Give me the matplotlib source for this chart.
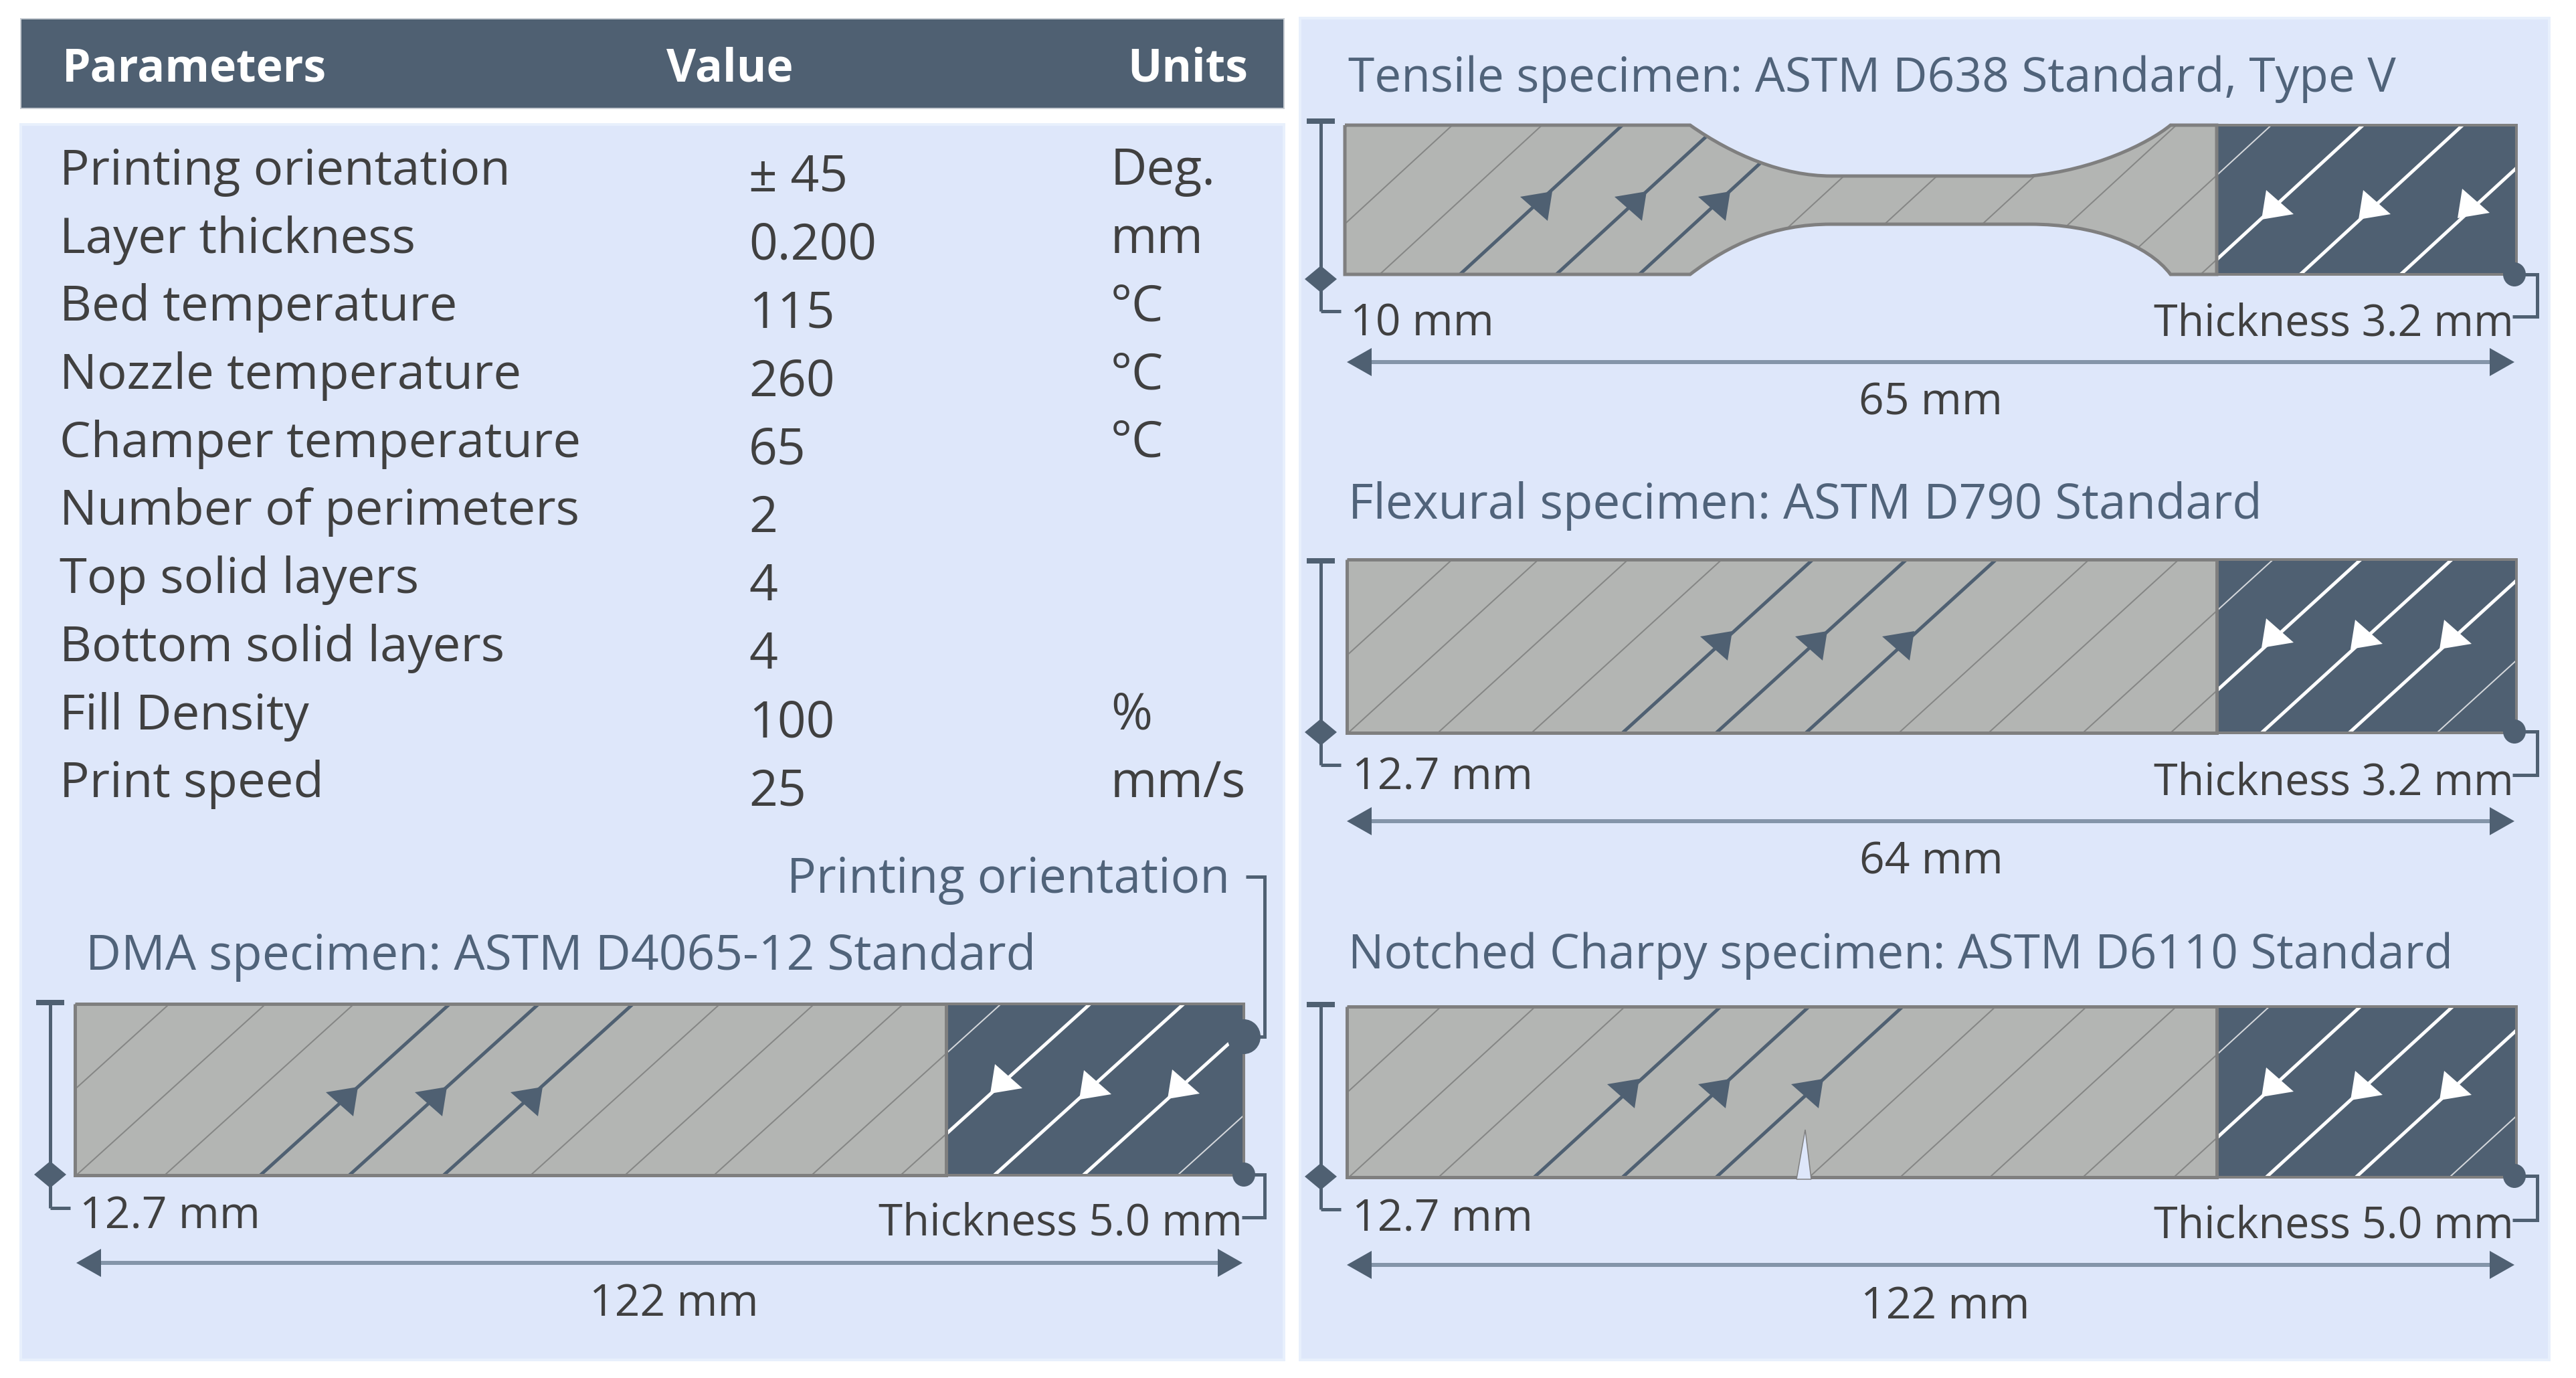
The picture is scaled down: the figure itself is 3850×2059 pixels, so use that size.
import matplotlib
matplotlib.use('Agg')
import matplotlib.pyplot as plt
from matplotlib.patches import Rectangle, PathPatch, Ellipse
from matplotlib.path import Path

# Table contents
param_names = ['Printing orientation', 'Layer thickness', 'Bed temperature', 'Nozzle temperature',
               'Champer temperature', 'Number of perimeters', 'Top solid layers', 'Bottom solid layers',
               'Fill Density', 'Print speed']
param_values = ['± 45', '0.200', '115', '260', '65', '2', '4', '4', '100', '25']
param_units = ['Deg.', 'mm', '°C', '°C', '°C', '', '', '', '%', 'mm/s']
header_labels = ['Parameters', 'Value', 'Units']

# Print line positions along the bottom edge of each specimen (picture pixels)
dma_lines = [-30, 114, 246, 389, 522, 663, 793, 934, 1067, 1213, 1346, 1486, 1619, 1760]
tensile_lines = [1928, 2062, 2182, 2326, 2450, 2596, 2735, 2881, 3010, 3152, 3289, 3438, 3588]
flexural_lines = [1886, 2015, 2149, 2289, 2425, 2565, 2699, 2838, 2972, 3113, 3244, 3380, 3511, 3642]
charpy_lines = [1875, 2016, 2150, 2293, 2425, 2565, 2704, 2840, 2974, 3113, 3249, 3387, 3521, 3661]

BG = '#DEE7FA'
DARK = '#4F6072'
GREY = '#B3B5B3'
EDGE = '#7F7F7F'
TEXT = '#404040'
TITLE = '#50637A'
FONT = 'Open Sans'
PX = 0.72  # one picture pixel in points at dpi 100

fig = plt.figure(figsize=(38.5, 20.59), dpi=100)
ax = fig.add_axes([0, 0, 1, 1])
ax.set_xlim(0, 3850)
ax.set_ylim(2059, 0)
ax.axis('off')


def txt(x, y, s, size=47.5, color=TEXT, ha='left', weight='normal'):
    ax.text(x, y, s, fontsize=size, color=color, ha=ha, va='baseline', family=FONT, fontweight=weight)


def line(xs, ys, color=DARK, w=5, z=5, clip=None):
    ln, = ax.plot(xs, ys, color=color, lw=w * PX, zorder=z, solid_capstyle='butt', solid_joinstyle='miter')
    if clip is not None:
        ln.set_clip_path(clip)


def arrow_head(tx, ty, sign, color):
    # triangle with its tip on the print line
    ax.fill([tx, tx - sign * 48, tx - sign * 7], [ty, ty + sign * 8, ty + sign * 44], color=color, lw=0, zorder=6)


def specimen(x0, x1, xd, yt, yb, slope, lines, thick_grey, thick_white, thin_white, tips_grey, tips_white, outline=None):
    if outline is None:
        outline = Path([(x0, yt), (xd, yt), (xd, yb), (x0, yb), (x0, yt)])
    grey = PathPatch(outline, fc=GREY, ec='none', zorder=2)
    dark = Rectangle((xd, yt), x1 - xd, yb - yt, fc=DARK, ec='none', zorder=2)
    ax.add_patch(grey)
    ax.add_patch(dark)
    h = yb - yt
    for lx in lines:
        xs = [lx, lx + h * slope]
        ys = [yb, yt]
        if lx in thick_grey:
            line(xs, ys, DARK, 5, 3, grey)
        else:
            line(xs, ys, '#858685', 2, 3, grey)
        if lx in thick_white:
            line(xs, ys, 'white', 5, 3, dark)
        elif lx in thin_white:
            line(xs, ys, '#D5D8DC', 2, 3, dark)
    for tx, ty in tips_grey:
        arrow_head(tx, ty, 1, DARK)
    for tx, ty in tips_white:
        arrow_head(tx, ty, -1, 'white')
    ax.add_patch(PathPatch(outline, fc='none', ec=EDGE, lw=5 * PX, zorder=4))
    ax.add_patch(Rectangle((xd, yt), x1 - xd, yb - yt, fc='none', ec=EDGE, lw=4 * PX, zorder=4))


def left_bar(x, ytop, ydia, yfoot):
    line([x, x], [ytop, yfoot], DARK, 5)
    line([x - 21, x + 21], [ytop, ytop], DARK, 8)
    line([x, x + 30], [yfoot, yfoot], DARK, 5)
    ax.fill([x - 24, x, x + 24, x], [ydia, ydia - 20, ydia, ydia + 20], color=DARK, lw=0, zorder=6)


def right_bracket(x, xb, ytop, ybot):
    ax.add_patch(Ellipse((x, ytop), 34, 36, fc=DARK, ec='none', zorder=6))
    line([x, xb, xb, x - 3], [ytop, ytop, ybot, ybot], DARK, 5)


def dim_arrow(x0, x1, y):
    line([x0 + 30, x1 - 30], [y, y], '#8495A9', 6)
    ax.fill([x0, x0 + 37, x0 + 37], [y, y - 21, y + 21], color=DARK, lw=0, zorder=6)
    ax.fill([x1, x1 - 37, x1 - 37], [y, y - 21, y + 21], color=DARK, lw=0, zorder=6)


# Panels
ax.add_patch(Rectangle((31, 28), 1888, 134, fc=DARK, ec='#C8CDD3', lw=2 * PX, zorder=1))
ax.add_patch(Rectangle((31, 186), 1888, 1846, fc=BG, ec='#E8F0FC', lw=4 * PX, zorder=1))
ax.add_patch(Rectangle((1943, 27), 1867, 2005, fc=BG, ec='#E8F0FC', lw=4 * PX, zorder=1))

# Table
txt(93, 122, header_labels[0], 49, 'white', weight='bold')
txt(996, 122, header_labels[1], 49, 'white', weight='bold')
txt(1685, 122, header_labels[2], 49, 'white', weight='bold')
for i in range(len(param_names)):
    txt(89, 276 + i * 101.7, param_names[i], 53.5)
    txt(1119, 285 + i * 102, param_values[i], 54)
    txt(1660, 276 + i * 101.7, param_units[i], 54)

# DMA specimen
txt(1176, 1334, 'Printing orientation', 52.5, TITLE)
txt(128, 1449, 'DMA specimen: ASTM D4065-12 Standard', 52.7, TITLE)
specimen(112, 1859, 1414, 1500, 1756, 1.106, dma_lines, [389, 522, 663], [1346, 1486, 1619], [1213, 1760],
         [(535, 1624), (668, 1624), (811, 1624)], [(1480, 1634), (1613, 1643), (1745, 1642)])
line([1862, 1890, 1890, 1860], [1310, 1310, 1549, 1549], DARK, 5)
ax.add_patch(Ellipse((1859, 1549), 50, 52, fc=DARK, ec='none', zorder=6))
left_bar(75, 1498, 1755, 1805)
right_bracket(1859, 1890, 1755, 1819)
txt(119, 1836, '12.7 mm')
txt(1857, 1846, 'Thickness 5.0 mm', 47, ha='right')
dim_arrow(114, 1857, 1887)
txt(1007, 1966, '122 mm', ha='center')

# Tensile specimen, the grey part has the dog bone outline
dog = Path([(2010, 187), (2526, 187), (2590, 232), (2665, 263), (2737, 263), (3034, 263), (3129, 254), (3210, 215),
            (3244, 187), (3313, 187), (3313, 410), (3244, 410), (3210, 365), (3129, 335), (3034, 335), (2737, 335),
            (2650, 335), (2585, 365), (2526, 410), (2010, 410), (2010, 187)],
           [Path.MOVETO, Path.LINETO, Path.CURVE4, Path.CURVE4, Path.CURVE4, Path.LINETO, Path.CURVE4, Path.CURVE4,
            Path.CURVE4, Path.LINETO, Path.LINETO, Path.LINETO, Path.CURVE4, Path.CURVE4, Path.CURVE4, Path.LINETO,
            Path.CURVE4, Path.CURVE4, Path.CURVE4, Path.LINETO, Path.LINETO])
txt(2015, 137, 'Tensile specimen: ASTM D638 Standard, Type V', 51.2, TITLE)
specimen(2010, 3761, 3313, 187, 410, 1.088, tensile_lines, [2182, 2326, 2450], [3289, 3438, 3588], [3152],
         [(2320, 286), (2461, 286), (2586, 286)], [(3380, 328), (3525, 328), (3673, 326)], outline=dog)
left_bar(1974, 181, 417, 465)
right_bracket(3758, 3792, 410, 473)
txt(2018, 501, '10 mm')
txt(3757, 501, 'Thickness 3.2 mm', 46.5, ha='right')
dim_arrow(2013, 3758, 541)
txt(2886, 620, '65 mm', ha='center')

# Flexural specimen
txt(2015, 775, 'Flexural specimen: ASTM D790 Standard', 52.3, TITLE)
specimen(2013, 3761, 3313, 836, 1095, 1.098, flexural_lines, [2425, 2565, 2699], [3244, 3380, 3511], [3113, 3642],
         [(2589, 943), (2731, 943), (2861, 943)], [(3380, 968), (3513, 970), (3646, 970)])
left_bar(1974, 838, 1094, 1143)
right_bracket(3758, 3792, 1093, 1158)
txt(2021, 1179, '12.7 mm')
txt(3757, 1187, 'Thickness 3.2 mm', 46.5, ha='right')
dim_arrow(2013, 3758, 1227)
txt(2886, 1306, '64 mm', ha='center')

# Notched Charpy specimen
txt(2015, 1447, 'Notched Charpy specimen: ASTM D6110 Standard', 51.1, TITLE)
specimen(2013, 3761, 3313, 1504, 1759, 1.093, charpy_lines, [2293, 2425, 2565], [3249, 3387, 3521], [3113, 3661],
         [(2450, 1612), (2586, 1612), (2725, 1612)], [(3380, 1639), (3513, 1644), (3646, 1644)])
ax.fill([2685, 2698, 2707], [1762, 1688, 1762], fc=BG, ec=EDGE, lw=1.5 * PX, zorder=5)
left_bar(1974, 1501, 1758, 1807)
right_bracket(3758, 3792, 1757, 1823)
txt(2021, 1840, '12.7 mm')
txt(3757, 1850, 'Thickness 5.0 mm', 46.5, ha='right')
dim_arrow(2013, 3758, 1890)
txt(2907, 1970, '122 mm', ha='center')

fig.savefig('out.png', dpi=100, facecolor='white')
